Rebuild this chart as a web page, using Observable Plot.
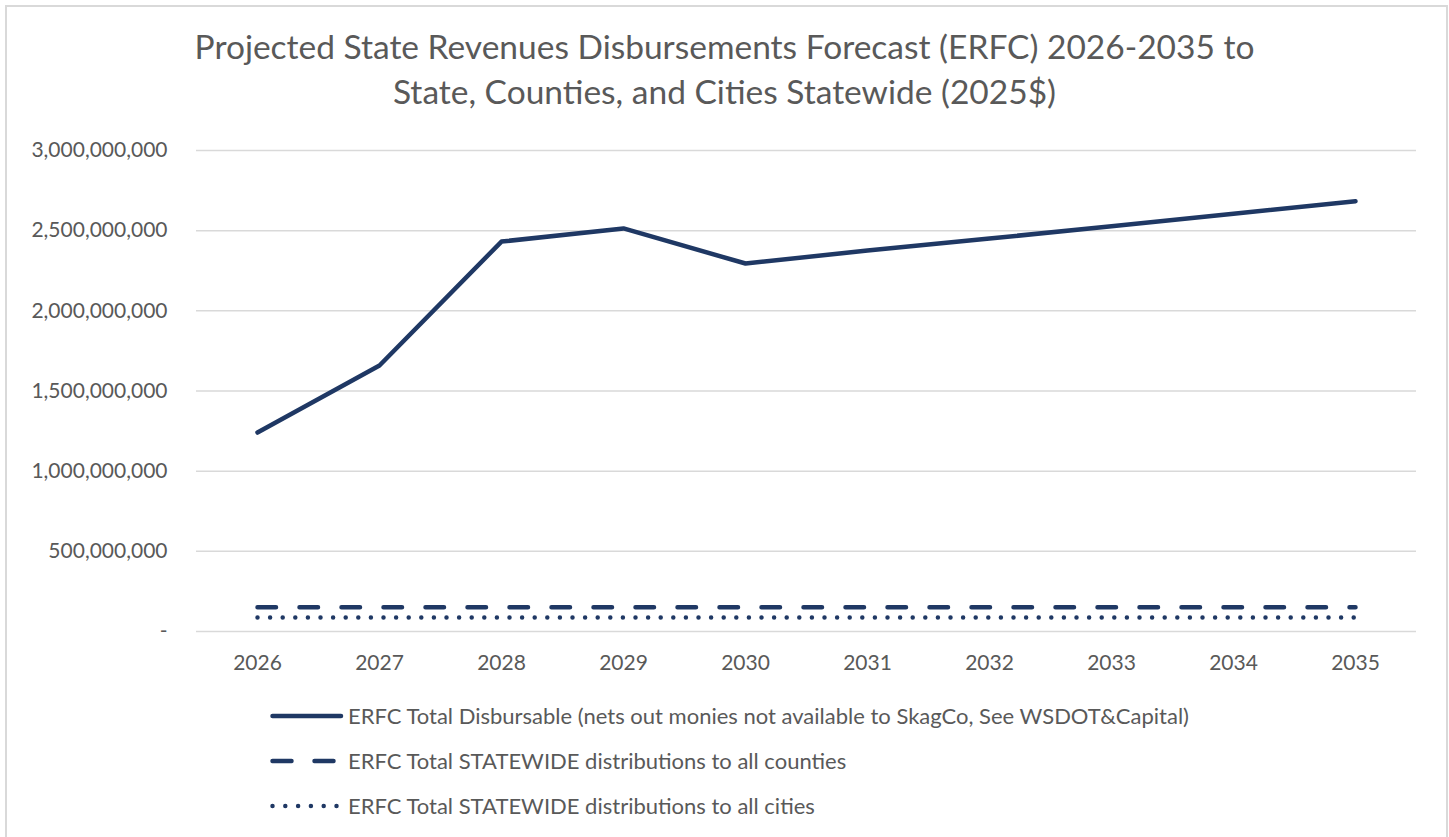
<!DOCTYPE html>
<html>
<head>
<meta charset="utf-8">
<script src="https://cdn.jsdelivr.net/npm/d3@7"></script>
<script src="https://cdn.jsdelivr.net/npm/@observablehq/plot@0.6"></script>
<style>
  html, body { margin: 0; padding: 0; background: #fff; overflow: hidden; }
  body { width: 1449px; height: 837px; position: relative; font-family: Lato, "Open Sans", sans-serif; color: #595959; }
  #frame { position: absolute; left: 5px; top: 5px; width: 1443px; height: 860px; border: 2px solid #d9d9d9; box-sizing: border-box; }
  #title { position: absolute; left: 0; width: 1449px; top: 24px; text-align: center; font-size: 33.5px; line-height: 45px; color: #595959; white-space: nowrap; }
  #chart { position: absolute; left: 0; top: 0; }
  #legend { position: absolute; left: 0; top: 0; font-size: 22px; color: #595959; }
  .row { position: absolute; height: 45px; line-height: 45px; white-space: nowrap; }
  .row svg { position: absolute; left: 0; top: 18px; }
  .row span { position: absolute; left: 78px; top: 0; }
</style>
</head>
<body>
<div id="frame"></div>
<div id="chart"></div>
<div id="title">Projected State Revenues Disbursements Forecast (ERFC) 2026-2035 to<br>State, Counties, and Cities Statewide (2025$)</div>
<div id="legend"></div>
<script>
const years = ["2026","2027","2028","2029","2030","2031","2032","2033","2034","2035"];
const totalDisbursable = [1241000000, 1659000000, 2432000000, 2514000000, 2295000000, 2376000000, 2451000000, 2527000000, 2605000000, 2684000000];
const countiesDist = [151000000, 151000000, 151000000, 151000000, 151000000, 151000000, 151000000, 151000000, 151000000, 151000000];
const citiesDist = [88000000, 88000000, 88000000, 88000000, 88000000, 88000000, 88000000, 88000000, 88000000, 88000000];
const seriesNames = [
  "ERFC Total Disbursable (nets out monies not available to SkagCo, See WSDOT&Capital)",
  "ERFC Total STATEWIDE distributions to all counties",
  "ERFC Total STATEWIDE distributions to all cities"
];
const yTicks = [0, 500000000, 1000000000, 1500000000, 2000000000, 2500000000, 3000000000];

const navy = "#1f3864";
const dashes = [null, "18.5,23.5", "0,12.6"];
const seriesVals = [totalDisbursable, countiesDist, citiesDist];
const rows = [];
seriesVals.forEach((vals, s) => years.forEach((yr, i) => rows.push({series: seriesNames[s], year: yr, value: vals[i], s})));

const fmt = d => d === 0 ? "-" : d3.format(",")(d);

const chart = Plot.plot({
  width: 1449,
  height: 837,
  marginLeft: 196,
  marginRight: 33,
  marginTop: 150,
  marginBottom: 206,
  style: {fontFamily: "Lato, 'Open Sans', sans-serif", fontSize: "21px", color: "#595959", background: "transparent"},
  x: {type: "point", domain: years, padding: 0.5, label: null},
  y: {domain: [0, 3000000000], label: null},
  marks: [
    Plot.gridY(yTicks, {stroke: "#d9d9d9", strokeOpacity: 1, strokeWidth: 1.5}),
    Plot.axisY(yTicks, {tickFormat: fmt, tickSize: 0, tickPadding: 29, label: null, fill: "#595959", fontSize: 21}),
    Plot.axisX({tickSize: 0, tickPadding: 24, label: null, fill: "#595959", fontSize: 21}),
    ...[0,1,2].map(s => Plot.line(rows.filter(r => r.s === s), {
      x: "year", y: "value", stroke: navy, strokeWidth: 4.5,
      strokeLinecap: "round", strokeLinejoin: "round",
      strokeDasharray: dashes[s]
    }))
  ]
});
document.getElementById("chart").appendChild(chart);

const legend = document.getElementById("legend");
const legendDash = [null, "19,23", "0,12.8"];
seriesNames.forEach((name, s) => {
  const row = document.createElement("div");
  row.className = "row";
  row.style.left = "270px";
  row.style.top = (693 + s * 45) + "px";
  const dash = legendDash[s] ? ` stroke-dasharray="${legendDash[s]}"` : "";
  row.innerHTML = `<svg width="76" height="10"><line x1="2.5" y1="5" x2="71" y2="5" stroke="${navy}" stroke-width="4.5" stroke-linecap="round"${dash}/></svg><span>${name.replace("&","&amp;")}</span>`;
  legend.appendChild(row);
});
</script>
</body>
</html>
